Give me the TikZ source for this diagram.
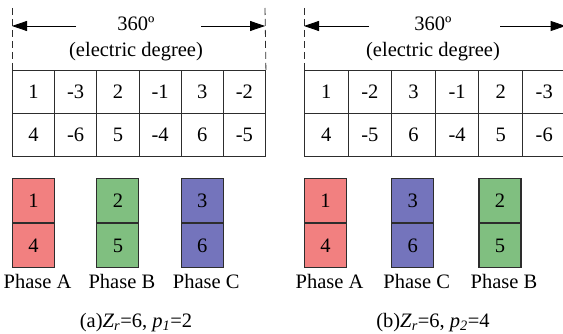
\documentclass[tikz,border=0pt]{standalone}
\usepackage{fontspec}
\setmainfont{Liberation Serif}
\usetikzlibrary{positioning,arrows.meta}
\definecolor{gridDark}{RGB}{45,45,45}
\definecolor{phaseA}{RGB}{242,128,128}
\definecolor{phaseB}{RGB}{128,191,128}
\definecolor{phaseC}{RGB}{116,116,188}

\begin{document}
\begin{tikzpicture}[
  x=1pt,y=1pt,
  font=\fontsize{20.5}{24}\selectfont,
  cell/.style={draw=gridDark,line width=0.9pt,minimum height=43pt,
               inner sep=0pt,anchor=north west},
  coil/.style={draw=gridDark,line width=1.1pt,minimum width=42pt,
               minimum height=44pt,inner sep=0pt},
  guide/.style={draw=gridDark,line width=0.8pt,dash pattern=on 7pt off 4pt},
  span/.style={-{Triangle[length=15pt,width=10pt]},line width=0.8pt},
  tag/.style={anchor=base,inner sep=0pt}
]
\useasboundingbox (0,0) rectangle (563,-334);
\clip (0,0) rectangle (563,-334);

% ---- columns ----
\def\xa{12}     % left table
\def\wa{42.17}
\def\xb{304}    % right table
\def\wb{43.6}

% ========================================================
%  (a) Zr=6, p1=2
% ========================================================
\foreach \v [count=\i from 0] in {1,-3,2,-1,3,-2}
  \node[cell,minimum width=\wa pt] (a1\i) at (\xa+\i*\wa,-70) {\v};
\foreach \v [count=\i from 0] in {4,-6,5,-4,6,-5}
  \node[cell,minimum width=\wa pt] (a2\i) at (\xa+\i*\wa,-113) {\v};

\coordinate (aL) at (\xa,-8);
\coordinate (aR) at (\xa+6*\wa,-8);
\draw[guide] (aL) -- (a10.north west);
\draw[guide] (aR) -- (a15.north east);

\node[tag] (aDeg) at (136,-31) {360º};
\node[tag] (aUnit) at (136,-57) {(electric degree)};
\coordinate (aS1) at (76,-26);
\coordinate (aS2) at (201,-26);
\draw[span] (aS1) -- (aL |- aS1);
\draw[span] (aS2) -- (aR |- aS2);

% ---- phase coils ----
\node[coil,fill=phaseA,anchor=north west] (pa1) at (\xa,-178) {1};
\node[coil,fill=phaseA,below=0pt of pa1] (pa4) {4};
\node[coil,fill=phaseB,anchor=north west] (pa2) at (\xa+2*\wa,-178) {2};
\node[coil,fill=phaseB,below=0pt of pa2] (pa5) {5};
\node[coil,fill=phaseC,anchor=north west] (pa3) at (\xa+4*\wa,-178) {3};
\node[coil,fill=phaseC,below=0pt of pa3] (pa6) {6};

\node[tag] (laA) at ([xshift=4pt]pa4.south |- 0,-288) {Phase A};
\node[tag] (laB) at ([xshift=4pt]pa5.south |- 0,-288) {Phase B};
\node[tag] (laC) at ([xshift=4pt]pa6.south |- 0,-288) {Phase C};

\node[tag] (capA) at (136,-327)
  {(a)\textit{Z}\textsubscript{\textit{r}}=6, \textit{p}\textsubscript{\textit{1}}=2};

% ========================================================
%  (b) Zr=6, p2=4
% ========================================================
\foreach \v [count=\i from 0] in {1,-2,3,-1,2,-3}
  \node[cell,minimum width=\wb pt] (b1\i) at (\xb+\i*\wb,-70) {\v};
\foreach \v [count=\i from 0] in {4,-5,6,-4,5,-6}
  \node[cell,minimum width=\wb pt] (b2\i) at (\xb+\i*\wb,-113) {\v};

\coordinate (bL) at (\xb,-8);
\coordinate (bR) at (\xb+6*\wb,-8);
\draw[guide] (bL) -- (b10.north west);
\draw[guide] (bR) -- (b15.north east);

\node[tag] (bDeg) at (433,-31) {360º};
\node[tag] (bUnit) at (433,-57) {(electric degree)};
\coordinate (bS1) at (369,-26);
\coordinate (bS2) at (500,-26);
\draw[span] (bS1) -- (bL |- bS1);
\draw[span] (bS2) -- (bR |- bS2);

% ---- phase coils ----
\node[coil,fill=phaseA,anchor=north west] (pb1) at (\xb,-178) {1};
\node[coil,fill=phaseA,below=0pt of pb1] (pb4) {4};
\node[coil,fill=phaseC,anchor=north west] (pb3) at (\xb+2*\wb,-178) {3};
\node[coil,fill=phaseC,below=0pt of pb3] (pb6) {6};
\node[coil,fill=phaseB,anchor=north west] (pb2) at (\xb+4*\wb,-178) {2};
\node[coil,fill=phaseB,below=0pt of pb2] (pb5) {5};

\node[tag] (lbA) at ([xshift=4pt]pb4.south |- 0,-288) {Phase A};
\node[tag] (lbC) at ([xshift=4pt]pb6.south |- 0,-288) {Phase C};
\node[tag] (lbB) at ([xshift=4pt]pb5.south |- 0,-288) {Phase B};

\node[tag] (capB) at (433,-327)
  {(b)\textit{Z}\textsubscript{\textit{r}}=6, \textit{p}\textsubscript{\textit{2}}=4};

\end{tikzpicture}
\end{document}
